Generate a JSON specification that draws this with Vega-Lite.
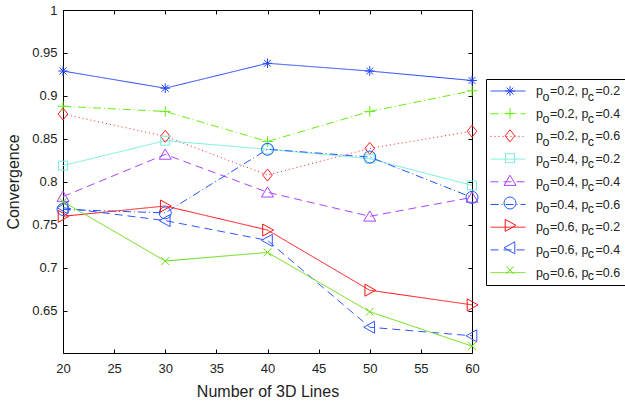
{
  "$schema": "https://vega.github.io/schema/vega-lite/v6.json",
  "width": 409,
  "height": 343,
  "autosize": "none",
  "padding": {"left": 63, "top": 10, "right": 153, "bottom": 54},
  "background": "white",
  "config": {"view": {"stroke": null}, "font": "Liberation Sans"},
  "data": {
    "values": [
      {"lines": 20, "conv": 0.929, "series": "po=0.2, pc=0.2"},
      {"lines": 30, "conv": 0.909, "series": "po=0.2, pc=0.2"},
      {"lines": 40, "conv": 0.938, "series": "po=0.2, pc=0.2"},
      {"lines": 50, "conv": 0.929, "series": "po=0.2, pc=0.2"},
      {"lines": 60, "conv": 0.918, "series": "po=0.2, pc=0.2"},
      {"lines": 20, "conv": 0.888, "series": "po=0.2, pc=0.4"},
      {"lines": 30, "conv": 0.882, "series": "po=0.2, pc=0.4"},
      {"lines": 40, "conv": 0.847, "series": "po=0.2, pc=0.4"},
      {"lines": 50, "conv": 0.882, "series": "po=0.2, pc=0.4"},
      {"lines": 60, "conv": 0.906, "series": "po=0.2, pc=0.4"},
      {"lines": 20, "conv": 0.879, "series": "po=0.2, pc=0.6"},
      {"lines": 30, "conv": 0.853, "series": "po=0.2, pc=0.6"},
      {"lines": 40, "conv": 0.808, "series": "po=0.2, pc=0.6"},
      {"lines": 50, "conv": 0.839, "series": "po=0.2, pc=0.6"},
      {"lines": 60, "conv": 0.859, "series": "po=0.2, pc=0.6"},
      {"lines": 20, "conv": 0.819, "series": "po=0.4, pc=0.2"},
      {"lines": 30, "conv": 0.848, "series": "po=0.4, pc=0.2"},
      {"lines": 40, "conv": 0.838, "series": "po=0.4, pc=0.2"},
      {"lines": 50, "conv": 0.827, "series": "po=0.4, pc=0.2"},
      {"lines": 60, "conv": 0.796, "series": "po=0.4, pc=0.2"},
      {"lines": 20, "conv": 0.783, "series": "po=0.4, pc=0.4"},
      {"lines": 30, "conv": 0.832, "series": "po=0.4, pc=0.4"},
      {"lines": 40, "conv": 0.788, "series": "po=0.4, pc=0.4"},
      {"lines": 50, "conv": 0.760, "series": "po=0.4, pc=0.4"},
      {"lines": 60, "conv": 0.782, "series": "po=0.4, pc=0.4"},
      {"lines": 20, "conv": 0.768, "series": "po=0.4, pc=0.6"},
      {"lines": 30, "conv": 0.764, "series": "po=0.4, pc=0.6"},
      {"lines": 40, "conv": 0.838, "series": "po=0.4, pc=0.6"},
      {"lines": 50, "conv": 0.829, "series": "po=0.4, pc=0.6"},
      {"lines": 60, "conv": 0.782, "series": "po=0.4, pc=0.6"},
      {"lines": 20, "conv": 0.760, "series": "po=0.6, pc=0.2"},
      {"lines": 30, "conv": 0.772, "series": "po=0.6, pc=0.2"},
      {"lines": 40, "conv": 0.744, "series": "po=0.6, pc=0.2"},
      {"lines": 50, "conv": 0.674, "series": "po=0.6, pc=0.2"},
      {"lines": 60, "conv": 0.657, "series": "po=0.6, pc=0.2"},
      {"lines": 20, "conv": 0.770, "series": "po=0.6, pc=0.4"},
      {"lines": 30, "conv": 0.755, "series": "po=0.6, pc=0.4"},
      {"lines": 40, "conv": 0.732, "series": "po=0.6, pc=0.4"},
      {"lines": 50, "conv": 0.631, "series": "po=0.6, pc=0.4"},
      {"lines": 60, "conv": 0.621, "series": "po=0.6, pc=0.4"},
      {"lines": 20, "conv": 0.777, "series": "po=0.6, pc=0.6"},
      {"lines": 30, "conv": 0.708, "series": "po=0.6, pc=0.6"},
      {"lines": 40, "conv": 0.718, "series": "po=0.6, pc=0.6"},
      {"lines": 50, "conv": 0.649, "series": "po=0.6, pc=0.6"},
      {"lines": 60, "conv": 0.609, "series": "po=0.6, pc=0.6"}
    ]
  },
  "layer": [
    {
      "mark": {"type": "line", "strokeWidth": 1},
      "encoding": {
        "x": {
          "field": "lines", "type": "quantitative",
          "scale": {"domain": [20, 60], "nice": false, "zero": false},
          "axis": {
            "orient": "bottom", "values": [20, 25, 30, 35, 40, 45, 50, 55, 60],
            "grid": false, "tickSize": -4, "labelPadding": 13, "labelFlush": false,
            "domainColor": "#000", "tickColor": "#000", "labelColor": "#222",
            "labelFontSize": 13, "title": "Number of 3D Lines", "titleFontSize": 16,
            "titleFontWeight": "normal", "titleColor": "#222", "titlePadding": 8
          }
        },
        "y": {
          "field": "conv", "type": "quantitative",
          "scale": {"domain": [0.601, 1], "nice": false, "zero": false},
          "axis": {
            "orient": "left", "values": [0.65, 0.7, 0.75, 0.8, 0.85, 0.9, 0.95, 1],
            "format": "~g", "grid": false, "tickSize": -4, "labelPadding": 10, "labelFlush": false,
            "domainColor": "#000", "tickColor": "#000", "labelColor": "#222",
            "labelFontSize": 13, "title": "Convergence", "titleFontSize": 16,
            "titleFontWeight": "normal", "titleColor": "#222", "titlePadding": 10
          }
        },
        "color": {
          "field": "series", "type": "nominal",
          "scale": {
            "domain": ["po=0.2, pc=0.2", "po=0.2, pc=0.4", "po=0.2, pc=0.6", "po=0.4, pc=0.2", "po=0.4, pc=0.4", "po=0.4, pc=0.6", "po=0.6, pc=0.2", "po=0.6, pc=0.4", "po=0.6, pc=0.6"],
            "range": ["#2244ff", "#66ee11", "#ff2222", "#77eedd", "#aa44ff", "#2255ff", "#ff1111", "#3355ff", "#66dd11"]
          },
          "legend": {
            "orient": "none", "legendX": 423, "legendY": 69, "title": null,
            "symbolType": "stroke", "symbolSize": 1225, "symbolStrokeWidth": 1,
            "clipHeight": 16, "rowPadding": 6.7, "padding": 4,
            "labelOffset": 10, "labelFontSize": 12.5, "labelColor": "#222", "labelBaseline": "middle",
            "strokeColor": "#000", "fillColor": "white",
            "labelExpr": "replace(replace(datum.label, 'po', 'p\u00a0\u00a0'), 'pc', 'p\u00a0\u00a0')"
          }
        },
        "strokeDash": {
          "field": "series", "type": "nominal",
          "scale": {
            "domain": ["po=0.2, pc=0.2", "po=0.2, pc=0.4", "po=0.2, pc=0.6", "po=0.4, pc=0.2", "po=0.4, pc=0.4", "po=0.4, pc=0.6", "po=0.6, pc=0.2", "po=0.6, pc=0.4", "po=0.6, pc=0.6"],
            "range": [[1, 0], [8, 3, 1, 3], [1, 3], [1, 0], [8, 5], [8, 3, 1, 3], [1, 0], [8, 5], [1, 0]]
          },
          "legend": {
            "orient": "none", "legendX": 423, "legendY": 69, "title": null,
            "symbolType": "stroke", "symbolSize": 1225, "symbolStrokeWidth": 1,
            "clipHeight": 16, "rowPadding": 6.7, "padding": 4,
            "labelOffset": 10, "labelFontSize": 12.5, "labelColor": "#222", "labelBaseline": "middle",
            "strokeColor": "#000", "fillColor": "white",
            "labelExpr": "replace(replace(datum.label, 'po', 'p\u00a0\u00a0'), 'pc', 'p\u00a0\u00a0')"
          }
        }
      }
    },
    {
      "mark": {"type": "point", "filled": false, "strokeWidth": 1, "size": 144, "opacity": 1},
      "encoding": {
        "x": {
          "field": "lines", "type": "quantitative",
          "scale": {"domain": [20, 60], "nice": false, "zero": false},
          "axis": {
            "orient": "top", "values": [20, 25, 30, 35, 40, 45, 50, 55, 60],
            "grid": false, "tickSize": -4, "labels": false, "title": null,
            "domainColor": "#000", "tickColor": "#000"
          }
        },
        "y": {
          "field": "conv", "type": "quantitative",
          "scale": {"domain": [0.601, 1], "nice": false, "zero": false},
          "axis": {
            "orient": "right", "values": [0.65, 0.7, 0.75, 0.8, 0.85, 0.9, 0.95, 1],
            "grid": false, "tickSize": -4, "labels": false, "title": null,
            "domainColor": "#000", "tickColor": "#000"
          }
        },
        "color": {
          "field": "series", "type": "nominal",
          "scale": {
            "domain": ["po=0.2, pc=0.2", "po=0.2, pc=0.4", "po=0.2, pc=0.6", "po=0.4, pc=0.2", "po=0.4, pc=0.4", "po=0.4, pc=0.6", "po=0.6, pc=0.2", "po=0.6, pc=0.4", "po=0.6, pc=0.6"],
            "range": ["#2244ff", "#66ee11", "#ff2222", "#77eedd", "#aa44ff", "#2255ff", "#ff1111", "#3355ff", "#66dd11"]
          },
          "legend": {
            "orient": "none", "legendX": 423, "legendY": 69, "title": null,
            "symbolSize": 144, "symbolStrokeWidth": 1, "symbolOffset": 13.5,
            "clipHeight": 16, "rowPadding": 1.4, "padding": 4,
            "labelOffset": 26, "labelFontSize": 12.5, "labelColor": "#222", "labelBaseline": "top",
            "labelExpr": "'\u00a0\u00a0o\u00a0\u00a0\u00a0\u00a0\u00a0\u00a0\u00a0\u00a0\u00a0\u00a0\u00a0c'"
          }
        },
        "shape": {
          "field": "series", "type": "nominal",
          "scale": {
            "domain": ["po=0.2, pc=0.2", "po=0.2, pc=0.4", "po=0.2, pc=0.6", "po=0.4, pc=0.2", "po=0.4, pc=0.4", "po=0.4, pc=0.6", "po=0.6, pc=0.2", "po=0.6, pc=0.4", "po=0.6, pc=0.6"],
            "range": [
              "M-0.8,0L0.8,0M0,-0.8L0,0.8M-0.57,-0.57L0.57,0.57M-0.57,0.57L0.57,-0.57",
              "M-0.9,0L0.9,0M0,-0.9L0,0.9",
              "M0,-1L0.8,0L0,1L-0.8,0Z",
              "M-0.75,-0.75L0.75,-0.75L0.75,0.75L-0.75,0.75Z",
              "M0,-0.9L1,0.8L-1,0.8Z",
              "circle",
              "M-0.8,-1L1,0L-0.8,1Z",
              "M0.8,-1L-1,0L0.8,1Z",
              "M-0.65,-0.65L0.65,0.65M-0.65,0.65L0.65,-0.65"
            ]
          },
          "legend": {
            "orient": "none", "legendX": 423, "legendY": 69, "title": null,
            "symbolSize": 144, "symbolStrokeWidth": 1, "symbolOffset": 13.5,
            "clipHeight": 16, "rowPadding": 1.4, "padding": 4,
            "labelOffset": 26, "labelFontSize": 12.5, "labelColor": "#222", "labelBaseline": "top",
            "labelExpr": "'\u00a0\u00a0o\u00a0\u00a0\u00a0\u00a0\u00a0\u00a0\u00a0\u00a0\u00a0\u00a0\u00a0c'"
          }
        }
      }
    }
  ],
  "resolve": {"legend": {"color": "independent", "shape": "independent", "strokeDash": "independent"}}
}
